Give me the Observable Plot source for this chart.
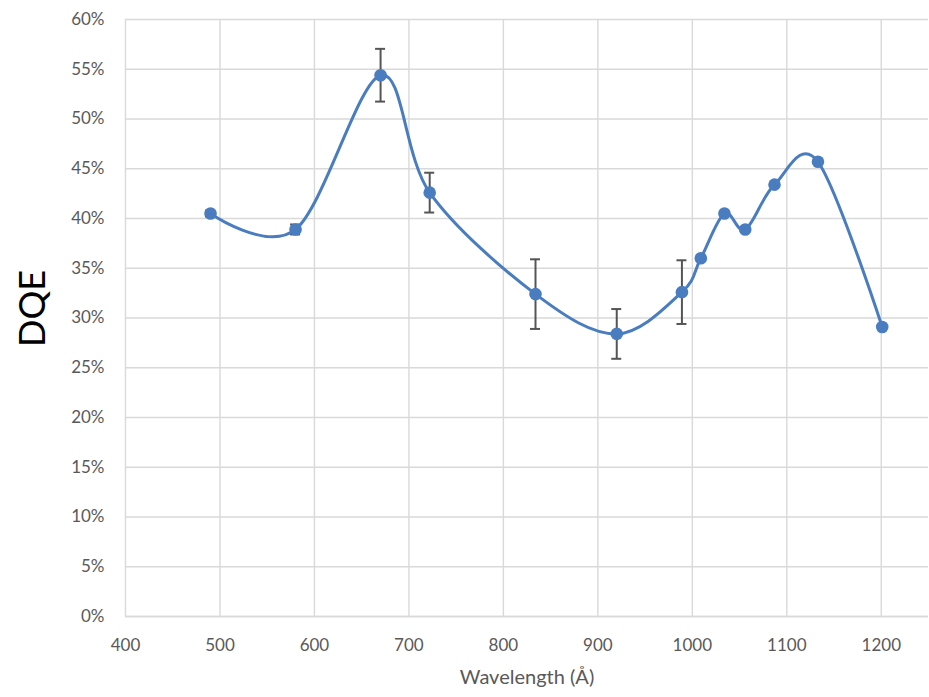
<!DOCTYPE html>
<html>
<head>
<meta charset="utf-8">
<script src="https://cdn.jsdelivr.net/npm/d3@7"></script>
<script src="https://cdn.jsdelivr.net/npm/@observablehq/plot@0.6"></script>
<style>
  html, body { margin: 0; padding: 0; background: #fff; }
  #chart { width: 929px; height: 697px; }
</style>
</head>
<body>
<div id="chart"></div>
<script>
// Wavelength (Å)
const wavelengths = [490, 580, 670, 722, 834, 920, 989, 1009, 1034, 1056, 1087, 1133, 1201];
// DQE (fraction)
const dqe = [0.405, 0.389, 0.544, 0.426, 0.324, 0.284, 0.326, 0.360, 0.405, 0.389, 0.434, 0.457, 0.291];
// error bar half-widths (fraction), 0 = none
const dqeErr = [0.003, 0.005, 0.0265, 0.020, 0.035, 0.025, 0.032, 0, 0, 0, 0, 0, 0];

const xTicks = [400, 500, 600, 700, 800, 900, 1000, 1100, 1200];
const yTicks = [0, 0.05, 0.10, 0.15, 0.20, 0.25, 0.30, 0.35, 0.40, 0.45, 0.50, 0.55, 0.60];
const xTitle = "Wavelength (Å)";
const yTitle = "DQE";

const data = wavelengths.map((w, i) => ({w, v: dqe[i], e: dqeErr[i]}));
const errData = data.filter(d => d.e > 0);

const blue = "#4a7dbf";
const gridColor = "#d9d9d9";
const textColor = "#595959";

const chart = Plot.plot({
  width: 929,
  height: 697,
  marginLeft: 125,
  marginRight: 1,
  marginTop: 19,
  marginBottom: 81,
  style: {fontFamily: "Lato, 'Open Sans', sans-serif", fontSize: "17px", color: textColor, background: "#fff"},
  x: {domain: [400, 1250]},
  y: {domain: [0, 0.6]},
  marks: [
    Plot.gridX(xTicks, {stroke: gridColor, strokeOpacity: 1, strokeWidth: 1.4}),
    Plot.gridY(yTicks, {stroke: gridColor, strokeOpacity: 1, strokeWidth: 1.4}),
    Plot.ruleY([0], {stroke: gridColor, strokeWidth: 1.6}),
    Plot.axisX(xTicks, {tickSize: 0, tickPadding: 22, fill: textColor, fontSize: 17, label: null, tickFormat: d3.format("d")}),
    Plot.axisY(yTicks, {tickSize: 0, tickPadding: 21, fill: textColor, fontSize: 17, label: null, tickFormat: d3.format(".0%")}),
    // error bars
    Plot.ruleX(errData, {x: "w", y1: d => d.v - d.e, y2: d => d.v + d.e, stroke: "#555", strokeWidth: 2}),
    Plot.ruleY(errData, {x1: "w", x2: "w", y: d => d.v + d.e, stroke: "#555", strokeWidth: 2, insetLeft: -5, insetRight: -5}),
    Plot.ruleY(errData, {x1: "w", x2: "w", y: d => d.v - d.e, stroke: "#555", strokeWidth: 2, insetLeft: -5, insetRight: -5}),
    // smoothed line
    Plot.line(data, {x: "w", y: "v", curve: "cardinal", stroke: blue, strokeWidth: 3}),
    Plot.dot(data, {x: "w", y: "v", r: 6.3, fill: blue, stroke: "none"}),
    // titles
    Plot.text([xTitle], {text: d => d, frameAnchor: "bottom", dy: 67, fontSize: 20, fill: textColor}),
    Plot.text([yTitle], {text: d => d, frameAnchor: "left", dx: -92, dy: 29, rotate: -90, fontSize: 36, fill: "#000"})
  ]
});
document.getElementById("chart").appendChild(chart);
</script>
</body>
</html>
